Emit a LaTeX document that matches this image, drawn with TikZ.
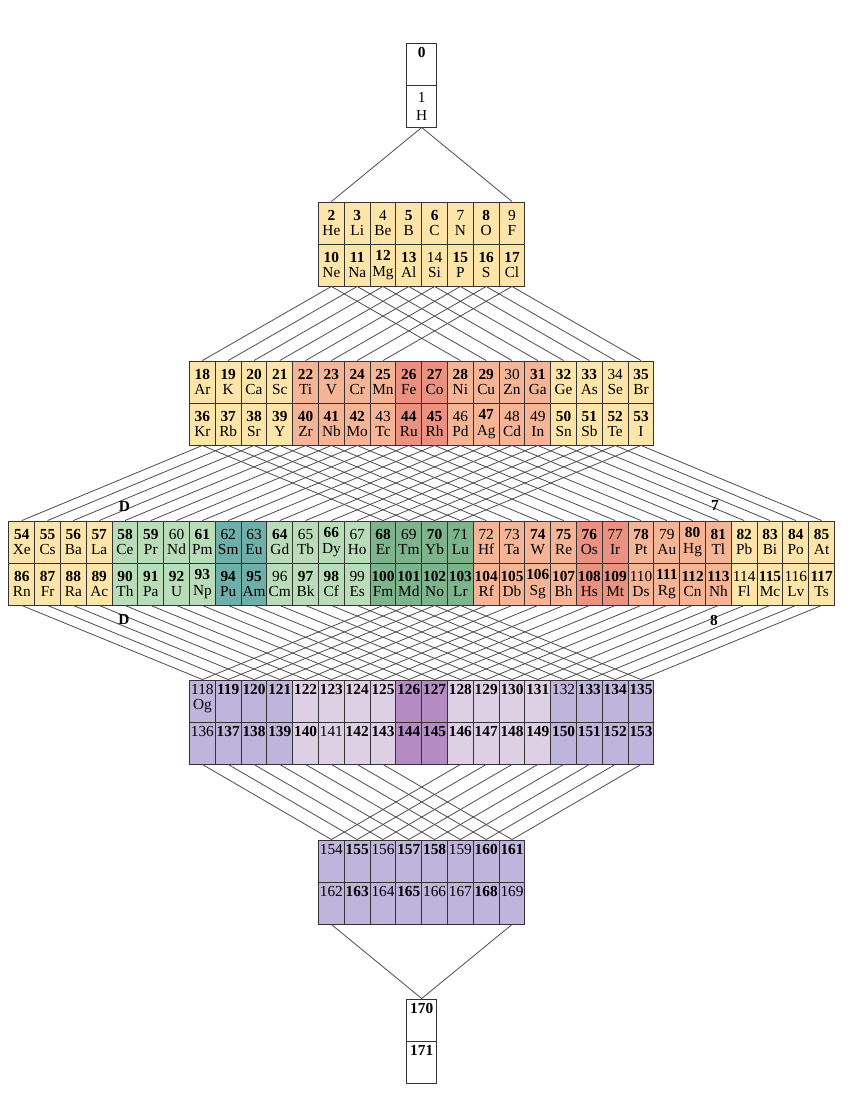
\documentclass[tikz,border=0pt]{standalone}
\usepackage{fontspec}
\setmainfont{Liberation Serif}
\usepackage{xcolor}
\usepackage{tikz}

\definecolor{elyel}{HTML}{FDE4A8}
\definecolor{elsal}{HTML}{F5B496}
\definecolor{elred}{HTML}{EB9182}
\definecolor{elgrn}{HTML}{B9DCB9}
\definecolor{elteal}{HTML}{6EAFAA}
\definecolor{eldgr}{HTML}{7DB48C}
\definecolor{elpur}{HTML}{BEB4DC}
\definecolor{ellil}{HTML}{DED0E4}
\definecolor{elmag}{HTML}{B48CC3}

\newcommand{\bn}[1]{\textbf{#1}}

\begin{document}
\begin{tikzpicture}[x=0.75pt, y=-0.75pt,
    every node/.style={font=\fontsize{11.5}{11.5}\selectfont, inner sep=0pt},
    cell/.style={draw=black!80, line width=0.7pt, minimum width=19.35pt, minimum height=31.5pt, align=center},
    numonly/.style={text height=8pt, text depth=18pt},
    wire/.style={draw=black!70, line width=0.6pt}]
    \useasboundingbox (0,0) rectangle (857,1093);

    % top box
    \node[cell, numonly, minimum width=22.5pt] (top0) at (421.7,64) {\bn{0}};
    \node[cell, minimum width=22.5pt] (top1) at (421.7,106) {1\\[2pt]H};

    % second block
    \foreach \i/\n/\s in {0/\bn{2}/He,1/\bn{3}/Li,2/4/Be,3/\bn{5}/B,4/\bn{6}/C,5/7/N,6/\bn{8}/O,7/9/F} {
        \node[cell, fill=elyel] (r2u\i) at ({421.7+(\i-3.5)*25.8},223) {\n\\\s};
    }
    \foreach \i/\n/\s in {0/\bn{10}/Ne,1/\bn{11}/Na,2/\bn{12}/Mg,3/\bn{13}/Al,4/14/Si,5/\bn{15}/P,6/\bn{16}/S,7/\bn{17}/Cl} {
        \node[cell, fill=elyel] (r2l\i) at ({421.7+(\i-3.5)*25.8},265) {\n\\\s};
    }

    % third block
    \foreach \i/\n/\s/\c in {0/\bn{18}/Ar/elyel,1/\bn{19}/K/elyel,2/\bn{20}/Ca/elyel,3/\bn{21}/Sc/elyel,
        4/\bn{22}/Ti/elsal,5/\bn{23}/V/elsal,6/\bn{24}/Cr/elsal,7/\bn{25}/Mn/elsal,8/\bn{26}/Fe/elred,9/\bn{27}/Co/elred,
        10/\bn{28}/Ni/elsal,11/\bn{29}/Cu/elsal,12/30/Zn/elsal,13/\bn{31}/Ga/elsal,
        14/\bn{32}/Ge/elyel,15/\bn{33}/As/elyel,16/34/Se/elyel,17/\bn{35}/Br/elyel} {
        \node[cell, fill=\c] (r3u\i) at ({421.7+(\i-8.5)*25.8},382) {\n\\\s};
    }
    \foreach \i/\n/\s/\c in {0/\bn{36}/Kr/elyel,1/\bn{37}/Rb/elyel,2/\bn{38}/Sr/elyel,3/\bn{39}/Y/elyel,
        4/\bn{40}/Zr/elsal,5/\bn{41}/Nb/elsal,6/\bn{42}/Mo/elsal,7/43/Tc/elsal,8/\bn{44}/Ru/elred,9/\bn{45}/Rh/elred,
        10/46/Pd/elsal,11/\bn{47}/Ag/elsal,12/48/Cd/elsal,13/49/In/elsal,
        14/\bn{50}/Sn/elyel,15/\bn{51}/Sb/elyel,16/\bn{52}/Te/elyel,17/\bn{53}/I/elyel} {
        \node[cell, fill=\c] (r3l\i) at ({421.7+(\i-8.5)*25.8},424) {\n\\\s};
    }

    % fourth block
    \foreach \i/\n/\s/\c in {0/\bn{54}/Xe/elyel,1/\bn{55}/Cs/elyel,2/\bn{56}/Ba/elyel,3/\bn{57}/La/elyel,
        4/\bn{58}/Ce/elgrn,5/\bn{59}/Pr/elgrn,6/60/Nd/elgrn,7/\bn{61}/Pm/elgrn,8/62/Sm/elteal,9/63/Eu/elteal,
        10/\bn{64}/Gd/elgrn,11/65/Tb/elgrn,12/\bn{66}/Dy/elgrn,13/67/Ho/elgrn,
        14/\bn{68}/Er/eldgr,15/69/Tm/eldgr,16/\bn{70}/Yb/eldgr,17/71/Lu/eldgr,
        18/72/Hf/elsal,19/73/Ta/elsal,20/\bn{74}/W/elsal,21/\bn{75}/Re/elsal,22/\bn{76}/Os/elred,23/77/Ir/elred,
        24/\bn{78}/Pt/elsal,25/79/Au/elsal,26/\bn{80}/Hg/elsal,27/\bn{81}/Tl/elsal,
        28/\bn{82}/Pb/elyel,29/\bn{83}/Bi/elyel,30/\bn{84}/Po/elyel,31/\bn{85}/At/elyel} {
        \node[cell, fill=\c] (r4u\i) at ({421.7+(\i-15.5)*25.8},542) {\n\\\s};
    }
    \foreach \i/\n/\s/\c in {0/\bn{86}/Rn/elyel,1/\bn{87}/Fr/elyel,2/\bn{88}/Ra/elyel,3/\bn{89}/Ac/elyel,
        4/\bn{90}/Th/elgrn,5/\bn{91}/Pa/elgrn,6/\bn{92}/U/elgrn,7/\bn{93}/Np/elgrn,8/\bn{94}/Pu/elteal,9/\bn{95}/Am/elteal,
        10/96/Cm/elgrn,11/\bn{97}/Bk/elgrn,12/\bn{98}/Cf/elgrn,13/99/Es/elgrn,
        14/\bn{100}/Fm/eldgr,15/\bn{101}/Md/eldgr,16/\bn{102}/No/eldgr,17/\bn{103}/Lr/eldgr,
        18/\bn{104}/Rf/elsal,19/\bn{105}/Db/elsal,20/\bn{106}/Sg/elsal,21/\bn{107}/Bh/elsal,22/\bn{108}/Hs/elred,23/\bn{109}/Mt/elred,
        24/110/Ds/elsal,25/\bn{111}/Rg/elsal,26/\bn{112}/Cn/elsal,27/\bn{113}/Nh/elsal,
        28/114/Fl/elyel,29/\bn{115}/Mc/elyel,30/116/Lv/elyel,31/\bn{117}/Ts/elyel} {
        \node[cell, fill=\c] (r4l\i) at ({421.7+(\i-15.5)*25.8},584) {\n\\\s};
    }

    % fifth block
    \foreach \i/\n/\c in {0/118/elpur,1/\bn{119}/elpur,2/\bn{120}/elpur,3/\bn{121}/elpur,
        4/\bn{122}/ellil,5/\bn{123}/ellil,6/\bn{124}/ellil,7/\bn{125}/ellil,8/\bn{126}/elmag,9/\bn{127}/elmag,
        10/\bn{128}/ellil,11/\bn{129}/ellil,12/\bn{130}/ellil,13/\bn{131}/ellil,
        14/132/elpur,15/\bn{133}/elpur,16/\bn{134}/elpur,17/\bn{135}/elpur} {
        \node[cell, numonly, fill=\c] (r5u\i) at ({421.7+(\i-8.5)*25.8},701) {\n};
    }
    \node (og) at ([yshift=-4pt]r5u0.center) {Og};
    \foreach \i/\n/\c in {0/136/elpur,1/\bn{137}/elpur,2/\bn{138}/elpur,3/\bn{139}/elpur,
        4/\bn{140}/ellil,5/141/ellil,6/\bn{142}/ellil,7/\bn{143}/ellil,8/\bn{144}/elmag,9/\bn{145}/elmag,
        10/\bn{146}/ellil,11/\bn{147}/ellil,12/\bn{148}/ellil,13/\bn{149}/ellil,
        14/\bn{150}/elpur,15/\bn{151}/elpur,16/\bn{152}/elpur,17/\bn{153}/elpur} {
        \node[cell, numonly, fill=\c] (r5l\i) at ({421.7+(\i-8.5)*25.8},743) {\n};
    }

    % sixth block
    \foreach \i/\n in {0/154,1/\bn{155},2/156,3/\bn{157},4/\bn{158},5/159,6/\bn{160},7/\bn{161}} {
        \node[cell, numonly, fill=elpur] (r6u\i) at ({421.7+(\i-3.5)*25.8},861) {\n};
    }
    \foreach \i/\n in {0/162,1/\bn{163},2/164,3/\bn{165},4/166,5/167,6/\bn{168},7/169} {
        \node[cell, numonly, fill=elpur] (r6l\i) at ({421.7+(\i-3.5)*25.8},903) {\n};
    }

    % bottom box
    \node[cell, numonly, minimum width=22.5pt] (bot0) at (421.7,1020) {\bn{170}};
    \node[cell, numonly, minimum width=22.5pt] (bot1) at (421.7,1062) {\bn{171}};

    % connections
    \draw[wire] (top1.south) -- (r2u0.north) (top1.south) -- (r2u7.north);
    \foreach \i in {0,...,7} {
        \pgfmathtruncatemacro\j{\i+10}
        \draw[wire] (r2l\i.south) -- (r3u\i.north) (r2l\i.south) -- (r3u\j.north);
    }
    \foreach \i in {0,...,17} {
        \pgfmathtruncatemacro\j{\i+14}
        \draw[wire] (r3l\i.south) -- (r4u\i.north) (r3l\i.south) -- (r4u\j.north);
        \draw[wire] (r4l\i.south) -- (r5u\i.north) (r4l\j.south) -- (r5u\i.north);
    }
    \foreach \i in {0,...,7} {
        \pgfmathtruncatemacro\j{\i+10}
        \draw[wire] (r5l\i.south) -- (r6u\i.north) (r5l\j.south) -- (r6u\i.north);
    }
    \draw[wire] (r6l0.south) -- (bot0.north) (r6l7.south) -- (bot0.north);

    % labels
    \node[font=\fontsize{11.5}{11.5}\selectfont\bfseries] (lblD1) at (124.5,506) {D};
    \node[font=\fontsize{11.5}{11.5}\selectfont\bfseries] (lbl7) at (715,505) {7};
    \node[font=\fontsize{11.5}{11.5}\selectfont\bfseries] (lblD2) at (124,619) {D};
    \node[font=\fontsize{11.5}{11.5}\selectfont\bfseries] (lbl8) at (714,620) {8};
\end{tikzpicture}
\end{document}
